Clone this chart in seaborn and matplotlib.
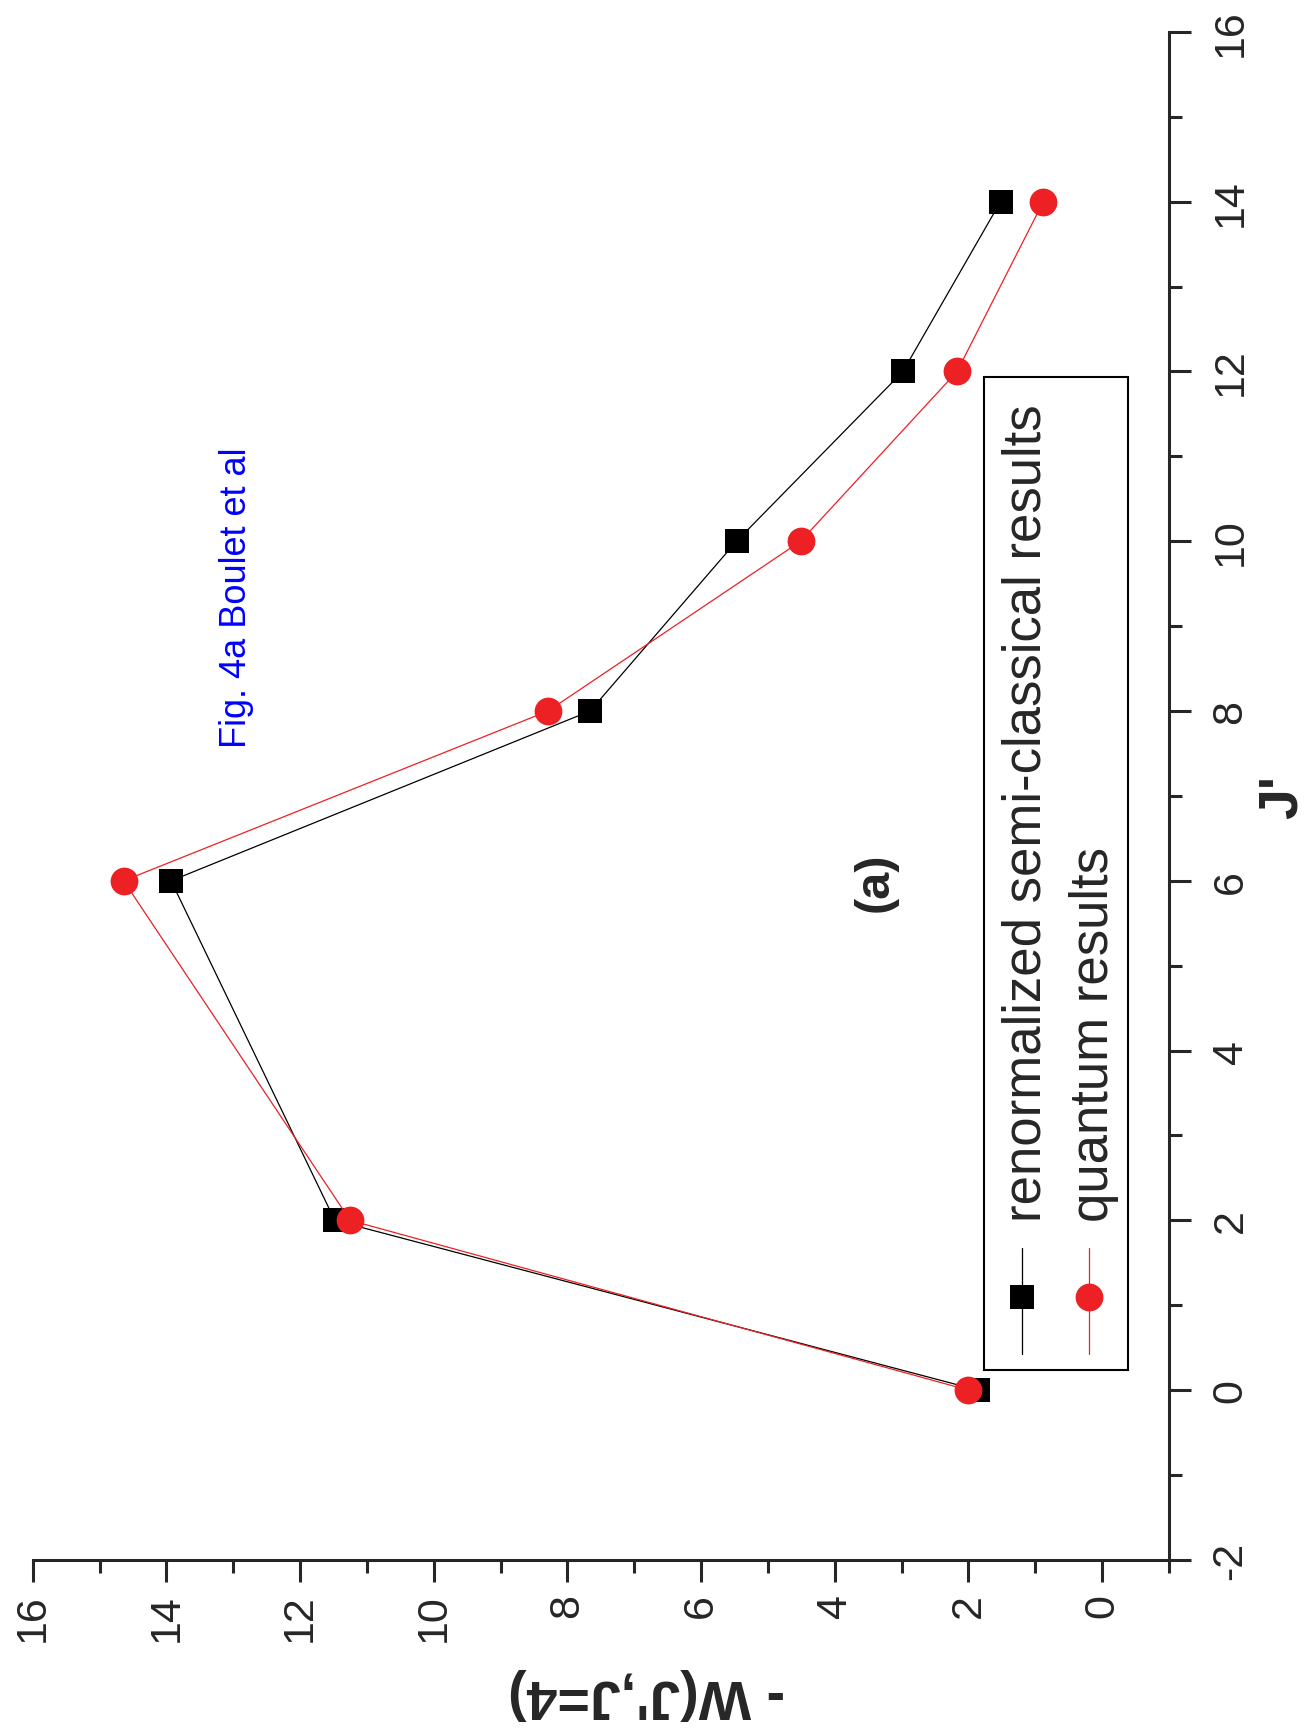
# Rotated plot of -W(J',J=4) against J' (page turned on its side)

import matplotlib.pyplot as plt
import matplotlib.font_manager as fm
from matplotlib.patches import Rectangle
from matplotlib.lines import Line2D
import matplotlib.ticker as ticker
import seaborn as sns
import pandas as pd

# Data
j_prime = [0, 2, 6, 8, 10, 12, 14]
w_semiclassical = [1.86, 11.48, 13.93, 7.66, 5.47, 2.98, 1.52]
w_quantum = [2.00, 11.25, 14.64, 8.29, 4.51, 2.17, 0.88]

x_ticks = [0, 2, 4, 6, 8, 10, 12, 14, 16]
y_ticks = [-2, 0, 2, 4, 6, 8, 10, 12, 14, 16]

series_labels = ["renormalized semi-classical results", "quantum results"]
black = "#000000"
red = "#ED2024"

semi = pd.DataFrame({"J": j_prime, "W": w_semiclassical})
quant = pd.DataFrame({"J": j_prime, "W": w_quantum})

sns.set_style("ticks")
plt.rcParams["font.family"] = ["Liberation Sans", "DejaVu Sans"]
plt.rcParams["axes.unicode_minus"] = False

# Narrow font for the legend, if it is there
try:
    fm.findfont("Liberation Sans Narrow", fallback_to_default=False)
    legend_family = ["Liberation Sans Narrow", "Liberation Sans"]
    legend_size = 46
except Exception:
    legend_family = ["Liberation Sans", "DejaVu Sans"]
    legend_size = 38

fig = plt.figure(figsize=(13.09, 17.33), dpi=100)
ax = fig.add_axes([0.025, 0.0993, 0.868, 0.8817])

sns.lineplot(data=semi, x="W", y="J", sort=False, estimator=None,
             color=black, linewidth=0.9, marker="s", markersize=17,
             markeredgewidth=0, ax=ax)
sns.lineplot(data=quant, x="W", y="J", sort=False, estimator=None,
             color=red, linewidth=0.9, marker="o", markersize=20,
             markeredgewidth=0, ax=ax)

ax.set_xlim(16, -1)
ax.set_ylim(-2, 16)

# Only bottom and right spines
for side in ["left", "top"]:
    ax.spines[side].set_visible(False)
for side in ["bottom", "right"]:
    ax.spines[side].set_linewidth(2.2)
ax.yaxis.tick_right()
ax.yaxis.set_label_position("right")

ax.set_xticks(x_ticks)
ax.set_yticks(y_ticks)
ax.xaxis.set_minor_locator(ticker.MultipleLocator(1))
ax.yaxis.set_minor_locator(ticker.MultipleLocator(1))
ax.tick_params(which="major", direction="out", length=16, width=2.2,
               labelsize=31, pad=8)
ax.tick_params(which="minor", direction="out", length=9, width=2.2)
ax.tick_params(axis="y", which="both", left=False, right=True, pad=14)
for lab in ax.get_xticklabels() + ax.get_yticklabels():
    lab.set_rotation(90)
for lab in ax.get_yticklabels():
    lab.set_verticalalignment("center")

ax.set_xlabel("- W(J',J=4)", fontsize=40, fontweight="bold", rotation=180,
              va="center", ha="center")
ax.xaxis.set_label_coords(0.54, -0.087)
ax.set_ylabel("J'", fontsize=40, fontweight="bold", rotation=90,
              va="center", ha="center")
ax.yaxis.set_label_coords(1.10, 0.5)

# Annotations
ax.text(12.95, 9.35, "Fig. 4a Boulet et al", color="#0000FF", fontsize=26,
        rotation=90, ha="center", va="center")
ax.text(3.4, 6.0, "(a)", fontsize=35, fontweight="bold",
        rotation=90, ha="center", va="center")

# Legend drawn by hand, turned on its side
tr = ax.transAxes
ax.add_patch(Rectangle((0.837, 0.124), 0.127, 0.650, transform=tr,
                       fill=False, edgecolor="black", linewidth=1.5,
                       clip_on=False, zorder=5))
for xh, col, mk, ms, lab in [(0.871, black, "s", 17, series_labels[0]),
                             (0.930, red, "o", 20, series_labels[1])]:
    ax.add_line(Line2D([xh, xh], [0.135, 0.204], transform=tr, color=col,
                       linewidth=0.9, clip_on=False, zorder=6))
    ax.add_line(Line2D([xh], [0.172], transform=tr, color=col, marker=mk,
                       markersize=ms, markeredgewidth=0, linestyle="none",
                       clip_on=False, zorder=6))
    ax.text(xh + 0.004, 0.222, lab, transform=tr, rotation=90,
            ha="center", va="bottom", fontsize=legend_size,
            family=legend_family, zorder=6)

fig.savefig("out.png", dpi=100)
